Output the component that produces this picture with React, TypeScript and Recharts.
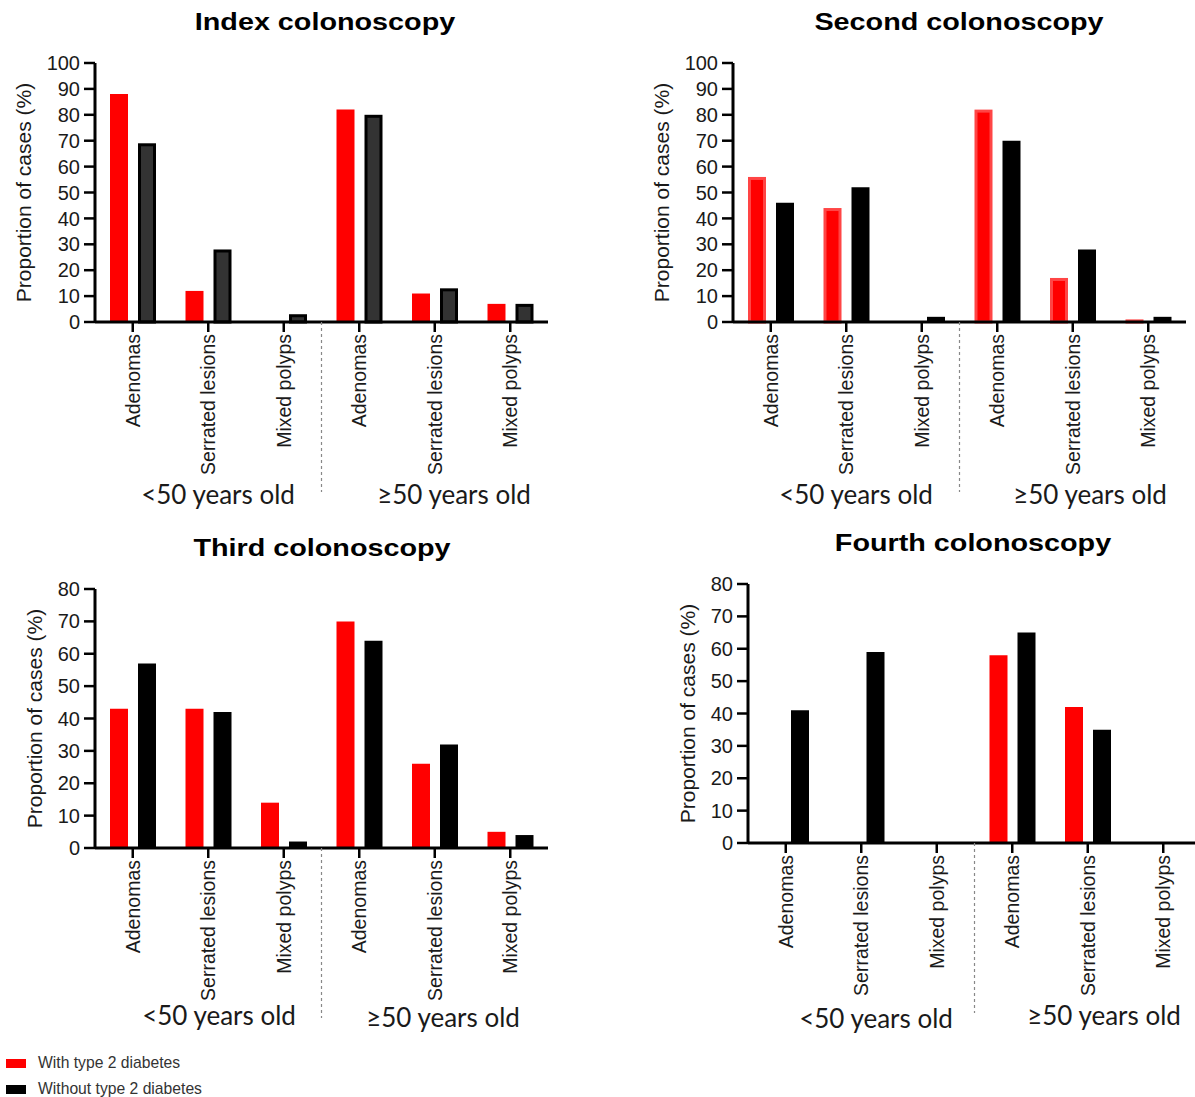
import { BarChart, Bar, XAxis, YAxis } from "recharts";

const categories = ['Adenomas', 'Serrated lesions', 'Mixed polyps', 'Adenomas', 'Serrated lesions', 'Mixed polyps'];

const indexWith = [88, 12, 0, 82, 11, 7];
const indexWithout = [69, 28, 3, 80, 13, 7];
const secondWith = [56, 44, 0, 82, 17, 1];
const secondWithout = [46, 52, 2, 70, 28, 2];
const thirdWith = [43, 43, 14, 70, 26, 5];
const thirdWithout = [57, 42, 2, 64, 32, 4];
const fourthWith = [0, 0, 0, 58, 42, 0];
const fourthWithout = [41, 59, 0, 65, 35, 0];

const ticks100 = [0, 10, 20, 30, 40, 50, 60, 70, 80, 90, 100];
const ticks80 = [0, 10, 20, 30, 40, 50, 60, 70, 80];

const legendItems = [
  { label: 'With type 2 diabetes', color: '#ff0000' },
  { label: 'Without type 2 diabetes', color: '#000000' },
];

const FONT = '"Liberation Sans", Arial, sans-serif';
const TEXT = '#1a1a1a';

const CatTick = (props: any) => {
  const { x, y, payload, index } = props;
  const half = payload && payload.offset ? payload.offset : 37.75;
  return (
    <g>
      <text
        x={x}
        y={y}
        transform={`rotate(-90, ${x}, ${y})`}
        textAnchor="end"
        dy="0.35em"
        fontSize={19.5}
        fontFamily={FONT}
        fill={TEXT}
      >
        {categories[index] ?? payload.value}
      </text>
      {index === 3 && (
        <line
          x1={x - half}
          x2={x - half}
          y1={y - 12}
          y2={y + 158}
          stroke="#888"
          strokeWidth={1.2}
          strokeDasharray="3 3"
        />
      )}
    </g>
  );
};

// bar with a border drawn inside its box
const insetShape = (fill: string, stroke: string, sw: number) => (p: any) => {
  if (!p.height || p.height <= 0) return <g />;
  const h = sw / 2;
  return (
    <rect
      x={p.x + h}
      y={p.y + h}
      width={Math.max(p.width - sw, 0)}
      height={Math.max(p.height - h, 0)}
      fill={fill}
      stroke={stroke}
      strokeWidth={sw}
    />
  );
};

interface PanelProps {
  left: number;
  top: number;
  width: number;
  yAxisWidth: number;
  marginRight: number;
  yMax: number;
  yTicks: number[];
  withVals: number[];
  withoutVals: number[];
  labelOffset: number;
  withShape?: any;
  withoutShape?: any;
}

const Panel = (p: PanelProps) => {
  const rows = categories.map((name, i) => ({
    name,
    with: p.withVals[i],
    without: p.withoutVals[i],
  }));
  return (
    <div style={{ position: 'absolute', left: p.left, top: p.top }}>
      <BarChart
        width={p.width}
        height={520}
        data={rows}
        margin={{ top: 63, right: p.marginRight, left: 0, bottom: 0 }}
        barSize={18}
        barGap={10}
      >
        <XAxis
          dataKey="name"
          height={198}
          interval={0}
          tickSize={10}
          tick={(t: any) => <CatTick {...t} />}
          axisLine={{ stroke: '#000', strokeWidth: 3 }}
          tickLine={{ stroke: '#000', strokeWidth: 2.5 }}
        />
        <YAxis
          width={p.yAxisWidth}
          domain={[0, p.yMax]}
          ticks={p.yTicks}
          interval={0}
          tickSize={11}
          tickMargin={4}
          axisLine={{ stroke: '#000', strokeWidth: 3 }}
          tickLine={{ stroke: '#000', strokeWidth: 2.5 }}
          tick={{ fill: TEXT, fontSize: 20, fontFamily: FONT }}
          label={{
            value: 'Proportion of cases (%)',
            angle: -90,
            position: 'insideLeft',
            offset: p.labelOffset,
            style: { textAnchor: 'middle', fontSize: 21, fontFamily: FONT, fill: TEXT },
          }}
        />
        <Bar dataKey="with" fill="#ff0000" shape={p.withShape} isAnimationActive={false} />
        <Bar dataKey="without" fill="#000000" shape={p.withoutShape} isAnimationActive={false} />
      </BarChart>
    </div>
  );
};

const Title = ({ x, y, text }: { x: number; y: number; text: string }) => (
  <div
    style={{
      position: 'absolute',
      left: x,
      top: y,
      transform: 'translate(-50%, -50%) scaleX(1.25)',
      fontFamily: FONT,
      fontWeight: 'bold',
      fontSize: 23,
      lineHeight: 1,
      whiteSpace: 'nowrap',
      color: '#000',
    }}
  >
    {text}
  </div>
);

const Group = ({ x, y, text }: { x: number; y: number; text: string }) => (
  <div
    style={{
      position: 'absolute',
      left: x,
      top: y,
      transform: 'translate(-50%, -50%)',
      fontFamily: 'Lato, "Open Sans", sans-serif',
      fontSize: 26,
      lineHeight: 1,
      whiteSpace: 'nowrap',
      color: TEXT,
    }}
  >
    {text}
  </div>
);

export default function App() {
  return (
    <div
      style={{
        position: 'absolute',
        left: 0,
        top: 0,
        width: 1195,
        height: 1097,
        overflow: 'hidden',
        background: '#fff',
      }}
    >
      <Panel
        left={0}
        top={0}
        width={560}
        yAxisWidth={95}
        marginRight={12}
        yMax={100}
        yTicks={ticks100}
        withVals={indexWith}
        withoutVals={indexWithout}
        labelOffset={24}
        withoutShape={insetShape('#333333', '#000000', 3)}
      />
      <Panel
        left={640}
        top={0}
        width={555}
        yAxisWidth={93}
        marginRight={9}
        yMax={100}
        yTicks={ticks100}
        withVals={secondWith}
        withoutVals={secondWithout}
        labelOffset={22}
        withShape={insetShape('#ff0000', '#ff4545', 3)}
      />
      <Panel
        left={0}
        top={526}
        width={560}
        yAxisWidth={95}
        marginRight={12}
        yMax={80}
        yTicks={ticks80}
        withVals={thirdWith}
        withoutVals={thirdWithout}
        labelOffset={35}
      />
      <Panel
        left={660}
        top={521}
        width={545}
        yAxisWidth={88}
        marginRight={4}
        yMax={80}
        yTicks={ticks80}
        withVals={fourthWith}
        withoutVals={fourthWithout}
        labelOffset={28}
      />

      <Title x={325} y={22} text="Index colonoscopy" />
      <Title x={959} y={22} text="Second colonoscopy" />
      <Title x={322} y={548} text="Third colonoscopy" />
      <Title x={973} y={543} text="Fourth colonoscopy" />

      <Group x={218} y={494} text="<50 years old" />
      <Group x={454} y={494} text="≥50 years old" />
      <Group x={856} y={494} text="<50 years old" />
      <Group x={1090} y={494} text="≥50 years old" />
      <Group x={219} y={1015} text="<50 years old" />
      <Group x={443} y={1017} text="≥50 years old" />
      <Group x={876} y={1018} text="<50 years old" />
      <Group x={1104} y={1015} text="≥50 years old" />

      {legendItems.map((item, i) => (
        <div
          key={item.label}
          style={{
            position: 'absolute',
            left: 6,
            top: 1054 + i * 26,
            display: 'flex',
            alignItems: 'center',
            height: 18,
          }}
        >
          <div style={{ width: 20, height: 9, background: item.color }} />
          <span
            style={{
              marginLeft: 12,
              fontFamily: FONT,
              fontSize: 15.7,
              color: '#333',
              whiteSpace: 'nowrap',
            }}
          >
            {item.label}
          </span>
        </div>
      ))}
    </div>
  );
}
